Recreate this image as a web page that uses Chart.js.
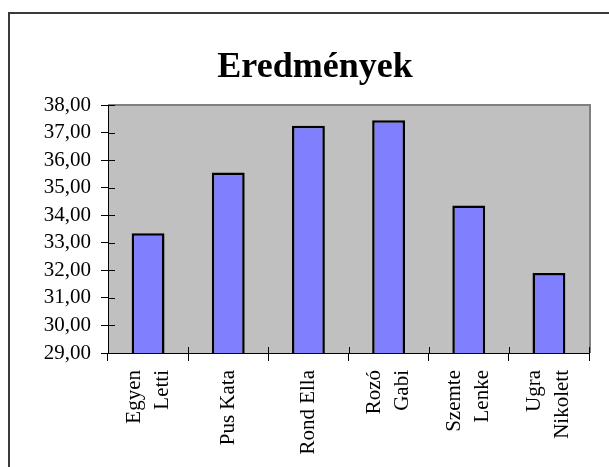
<!DOCTYPE html>
<html lang="hu">
<head>
    <meta charset="UTF-8">
    <title>Eredmények</title>
    <script src="https://cdn.jsdelivr.net/npm/chart.js"></script>
    <style>
        html, body { margin: 0; padding: 0; background: #fff; overflow: hidden; }
        #wrap { width: 609px; height: 467px; position: relative; }
    </style>
</head>
<body>
<div id="wrap"><canvas id="chart" width="609" height="467"></canvas></div>
<script>
    const chartTitle = 'Eredmények';
    const names = [['Egyen', 'Letti'], 'Pus Kata', 'Rond Ella', ['Rozó', 'Gabi'], ['Szemte', 'Lenke'], ['Ugra', 'Nikolett']];
    const scores = [33.35, 35.55, 37.25, 37.45, 34.35, 31.9];
    const yMin = 29;
    const yMax = 38;
    const yStep = 1;

    const serif = "'Times New Roman', 'Liberation Serif', serif";

    // keret, szürke háttér, cím, belső osztásjelek, függőleges kategórianevek
    const decor = {
        id: 'decor',
        beforeDraw(chart) {
            const ctx = chart.ctx;
            const a = chart.chartArea;
            ctx.save();
            ctx.fillStyle = '#3a3a3a';
            ctx.fillRect(8, 12, 700, 2);
            ctx.fillRect(8, 12, 2, 700);
            ctx.fillStyle = '#c0c0c0';
            ctx.fillRect(a.left, a.top, a.right - a.left, a.bottom - a.top);
            ctx.fillStyle = '#808080';
            ctx.fillRect(a.left, a.top - 1, a.right - a.left + 2, 2);
            ctx.fillRect(a.right, a.top - 1, 2, a.bottom - a.top + 1);
            ctx.fillStyle = '#000';
            ctx.font = 'bold 36px ' + serif;
            ctx.textAlign = 'center';
            ctx.textBaseline = 'alphabetic';
            ctx.fillText(chartTitle, 315, 77);
            ctx.restore();
        },
        afterDraw(chart) {
            const ctx = chart.ctx;
            const a = chart.chartArea;
            const y = chart.scales.y;
            const x = chart.scales.x;
            ctx.save();
            ctx.strokeStyle = '#000';
            ctx.lineWidth = 1;
            ctx.beginPath();
            for (let v = yMin; v <= yMax; v += yStep) {
                const py = Math.round(y.getPixelForValue(v)) + 0.5;
                ctx.moveTo(a.left, py);
                ctx.lineTo(a.left + 7, py);
            }
            for (let i = 0; i <= names.length; i++) {
                const px = Math.round(x.getPixelForValue(i - 0.5)) + 0.5;
                ctx.moveTo(px, a.bottom);
                ctx.lineTo(px, a.bottom - 6);
            }
            ctx.stroke();

            ctx.fillStyle = '#000';
            ctx.font = '21px ' + serif;
            ctx.textAlign = 'right';
            ctx.textBaseline = 'middle';
            names.forEach((n, i) => {
                const lines = Array.isArray(n) ? n : [n];
                const cx = x.getPixelForValue(i);
                lines.forEach((t, j) => {
                    const lx = cx + (j - (lines.length - 1) / 2) * 28;
                    ctx.save();
                    ctx.translate(lx, a.bottom + 17);
                    ctx.rotate(-Math.PI / 2);
                    ctx.fillText(t, 0, 0);
                    ctx.restore();
                });
            });
            ctx.restore();
        }
    };

    new Chart(document.getElementById('chart'), {
        type: 'bar',
        data: {
            labels: names,
            datasets: [{
                data: scores,
                backgroundColor: '#8080ff',
                borderColor: '#000',
                borderWidth: 2.5,
                borderSkipped: false,
                barPercentage: 0.41,
                categoryPercentage: 1
            }]
        },
        options: {
            responsive: false,
            animation: false,
            events: [],
            layout: { padding: { left: 21, top: 105, right: 20, bottom: 0 } },
            plugins: {
                legend: { display: false },
                title: { display: false },
                tooltip: { enabled: false }
            },
            scales: {
                y: {
                    min: yMin,
                    max: yMax,
                    afterFit(s) { s.width = 87; },
                    ticks: {
                        stepSize: yStep,
                        autoSkip: false,
                        color: '#000',
                        padding: 10,
                        font: { family: serif, size: 21 },
                        callback: v => v.toFixed(2).replace('.', ',')
                    },
                    grid: { drawOnChartArea: false, drawTicks: true, tickLength: 7, color: '#000' },
                    border: { color: '#000', width: 1 }
                },
                x: {
                    afterFit(s) { s.height = 114; },
                    ticks: { display: false },
                    grid: { offset: true, drawOnChartArea: false, drawTicks: true, tickLength: 8, color: '#000' },
                    border: { color: '#000', width: 1 }
                }
            }
        },
        plugins: [decor]
    });
</script>
</body>
</html>
